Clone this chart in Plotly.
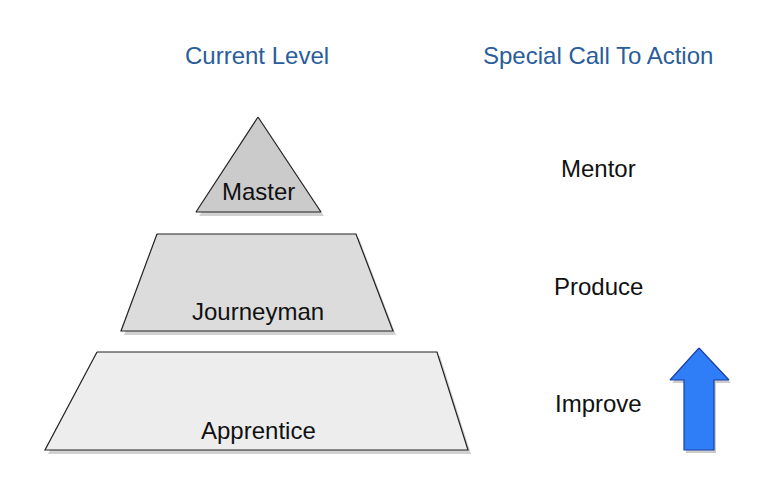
import plotly.graph_objects as go

# pyramid levels (pixel space, y grows downward)
levels = ["Master", "Journeyman", "Apprentice"]
actions = ["Mentor", "Produce", "Improve"]
top_y = [117, 234, 352]
bottom_y = [212, 331, 450]
top_left = [258, 157, 97]
top_right = [258, 356, 437]
bot_left = [196, 121, 45]
bot_right = [321, 393, 468]
label_y = [191, 311, 430]
action_y = [168, 286, 403]
fills = ["#cbcbcb", "#dcdcdc", "#ededed"]

arrow_x = [699, 729, 714, 714, 684, 684, 670, 699]
arrow_y = [348, 380, 380, 450, 450, 380, 380, 348]

fig = go.Figure()
for i in range(len(levels)):
    xs = [top_left[i], top_right[i], bot_right[i], bot_left[i], top_left[i]]
    ys = [top_y[i], top_y[i], bottom_y[i], bottom_y[i], top_y[i]]
    fig.add_trace(go.Scatter(x=[v + 3 for v in xs], y=[v + 4 for v in ys], fill="toself",
                             fillcolor="rgba(0,0,0,0.18)", line=dict(width=0),
                             mode="lines", hoverinfo="skip"))
    fig.add_trace(go.Scatter(x=xs, y=ys, fill="toself", fillcolor=fills[i],
                             line=dict(color="#222222", width=1.2), mode="lines"))
    fig.add_annotation(x=258, y=label_y[i], text=levels[i], showarrow=False,
                       font=dict(size=24, color="#111111"))
    fig.add_annotation(x=598, y=action_y[i], text=actions[i], showarrow=False,
                       font=dict(size=24, color="#111111"))

fig.add_trace(go.Scatter(x=[v + 2 for v in arrow_x], y=[v + 3 for v in arrow_y], fill="toself",
                         fillcolor="rgba(0,0,0,0.2)", line=dict(width=0), mode="lines"))
fig.add_trace(go.Scatter(x=arrow_x, y=arrow_y, fill="toself", fillcolor="#2f7ef7",
                         line=dict(color="#1b3fa8", width=1.2), mode="lines"))

fig.add_annotation(x=257, y=55, text="Current Level", showarrow=False,
                   font=dict(size=24, color="#2a5d9a"))
fig.add_annotation(x=598, y=55, text="Special Call To Action", showarrow=False,
                   font=dict(size=24, color="#2a5d9a"))

fig.update_layout(
    width=778, height=504, margin=dict(l=0, r=0, t=0, b=0),
    plot_bgcolor="white", paper_bgcolor="white", showlegend=False,
    font=dict(family="Liberation Sans, Arial, sans-serif"),
    xaxis=dict(range=[8, 786], visible=False, fixedrange=True),
    yaxis=dict(range=[512, 8], visible=False, fixedrange=True),
)
fig.write_html("out.html")
